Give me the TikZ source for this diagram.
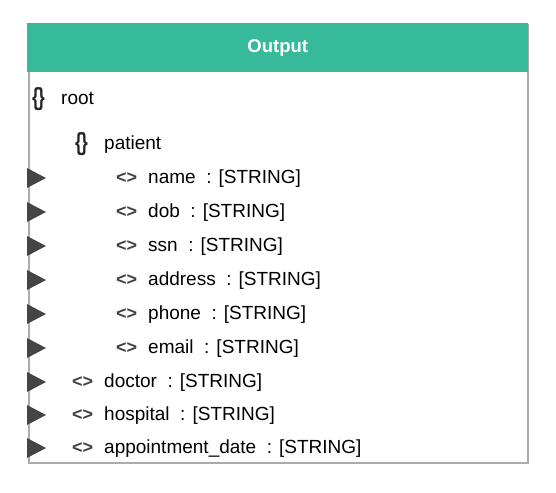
\documentclass[tikz,border=0pt]{standalone}
\usepackage{fontspec}
\setmainfont{Liberation Sans}
\usepackage{graphicx}
\usepackage{tikz}
\usetikzlibrary{positioning}

\definecolor{headgreen}{HTML}{36BA9A}
\definecolor{framegray}{HTML}{ABABAB}
\definecolor{pingray}{HTML}{454545}

\newcommand{\objmark}{\scalebox{0.95}[1.3]{\{\kern-1.5pt\}}}

\tikzset{
  field/.style={anchor=west, inner sep=0pt, text height=13pt, text depth=3pt,
    font=\fontsize{19}{22}\selectfont},
  objicon/.style={field, font=\fontsize{19}{22}\selectfont\bfseries, text=black!85},
  leaficon/.style={field, font=\fontsize{18}{20}\selectfont\bfseries, text=black!75},
}

\begin{document}
\begin{tikzpicture}[x=1pt, y=-1pt]
\useasboundingbox (0,0) rectangle (556,492);
% panel and header
\node (panel)  [draw=framegray, line width=2pt, minimum width=499pt, minimum height=438pt,
                anchor=north west, inner sep=0pt] at (28,24) {};
\node (header) [fill=headgreen, minimum width=501pt, minimum height=49pt,
                anchor=north west, inner sep=0pt] at (27,23) {};
\node (title)  [text=white, font=\fontsize{18.5}{22}\selectfont\bfseries] at (header.center) {Output};

% object rows
\node (rooticon)    [objicon] at (32,101)  {\objmark};
\node (root)        [field]   at (61,100)  {root};
\node (patienticon) [objicon] at (75,145)  {\objmark};
\node (patient)     [field]   at (104,144) {patient};

% fields of patient
\foreach \key/\y in {name/178, dob/212, ssn/246, address/280, phone/314, email/348} {
  \fill[pingray] (27,\y-10) -- (46,\y) -- (27,\y+10) -- cycle;
  \node (\key icon) [leaficon] at (116,\y) {<>};
  \node (\key)      [field]    at (148,\y) {\key~ : [STRING]};
}

% top level fields
\foreach \key/\lbl/\y in {doctor/doctor/382, hospital/hospital/415, appointment/appointment\_date/448} {
  \fill[pingray] (27,\y-10) -- (46,\y) -- (27,\y+10) -- cycle;
  \node (\key icon) [leaficon] at (72,\y)  {<>};
  \node (\key)      [field]    at (104,\y) {\lbl~ : [STRING]};
}
\end{tikzpicture}
\end{document}
